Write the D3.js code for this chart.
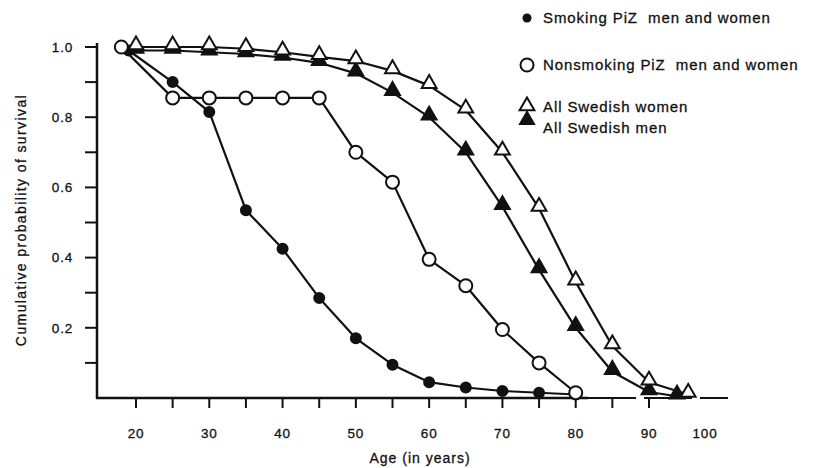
<!DOCTYPE html>
<html>

<head>
    <title>Survival</title>
    <script src="https://cdn.jsdelivr.net/npm/d3@7"></script>
    <style>
        body { margin: 0; background: #fff; }
        text { font-family: "Liberation Sans", Arial, sans-serif; fill: #111; stroke: #111; stroke-width: 0.3px; }
    </style>
</head>

<body>
    <svg width="814" height="468" id="mainsvg"></svg>
    <script>
        // ages (years) and cumulative survival
        const smokingAge = [19, 25, 30, 35, 40, 45, 50, 55, 60, 65, 70, 75, 80];
        const smokingVal = [0.99, 0.90, 0.815, 0.535, 0.425, 0.285, 0.17, 0.095, 0.045, 0.03, 0.02, 0.015, 0.01];
        const nonsmokingAge = [18, 25, 30, 35, 40, 45, 50, 55, 60, 65, 70, 75, 80];
        const nonsmokingVal = [1.0, 0.855, 0.855, 0.855, 0.855, 0.855, 0.70, 0.615, 0.395, 0.32, 0.195, 0.10, 0.015];
        const womenAge = [20, 25, 30, 35, 40, 45, 50, 55, 60, 65, 70, 75, 80, 85, 90, 97];
        const womenVal = [1.0, 1.0, 1.0, 0.995, 0.985, 0.972, 0.96, 0.932, 0.89, 0.82, 0.70, 0.54, 0.33, 0.148, 0.045, 0.01];
        const menAge = [20, 25, 30, 35, 40, 45, 50, 55, 60, 65, 70, 75, 80, 85, 90, 95];
        const menVal = [0.99, 0.99, 0.985, 0.98, 0.97, 0.955, 0.925, 0.87, 0.80, 0.70, 0.545, 0.365, 0.20, 0.075, 0.017, 0.005];

        const xTickLabels = [20, 30, 40, 50, 60, 70, 80, 90, 100];
        const xMinorTicks = [20, 25, 30, 35, 40, 45, 50, 55, 60, 65, 70, 75, 80, 85, 90];
        const yTickLabels = [0.2, 0.4, 0.6, 0.8, 1.0];
        const yMinorTicks = [0.1, 0.2, 0.3, 0.4, 0.5, 0.6, 0.7, 0.8, 0.9, 1.0];
        const legendLabels = ['Smoking PiZ  men and women', 'Nonsmoking PiZ  men and women', 'All Swedish women', 'All Swedish men'];

        const svg = d3.select('svg');
        const x = d3.scaleLinear().domain([20, 90, 100]).range([136, 649, 705]);
        const y = d3.scaleLinear().domain([0, 1]).range([398, 47]);

        // axes
        svg.append('line').attr('x1', 97).attr('x2', 97).attr('y1', 43).attr('y2', 399)
            .attr('stroke', '#111').attr('stroke-width', 2.5);
        svg.append('line').attr('x1', 96).attr('x2', 588).attr('y1', 398).attr('y2', 398)
            .attr('stroke', '#111').attr('stroke-width', 2.5);
        svg.append('line').attr('x1', 588).attr('x2', 728).attr('y1', 398).attr('y2', 398)
            .attr('stroke', '#111').attr('stroke-width', 2.2).attr('stroke-dasharray', '48,8');

        svg.selectAll('.ytick').data(yMinorTicks).join('line')
            .attr('x1', 85).attr('x2', 97).attr('y1', d => y(d)).attr('y2', d => y(d))
            .attr('stroke', '#111').attr('stroke-width', 2);
        svg.selectAll('.ylab').data(yTickLabels).join('text')
            .attr('x', 73).attr('y', d => y(d)).attr('dy', '0.35em')
            .attr('text-anchor', 'end').attr('font-size', 13.5).attr('letter-spacing', 0.8)
            .text(d => d.toFixed(1));

        svg.selectAll('.xtick').data(xMinorTicks).join('line')
            .attr('x1', d => x(d)).attr('x2', d => x(d)).attr('y1', 398).attr('y2', 408)
            .attr('stroke', '#111').attr('stroke-width', 2);
        svg.selectAll('.xlab').data(xTickLabels).join('text')
            .attr('x', d => x(d)).attr('y', 438)
            .attr('text-anchor', 'middle').attr('font-size', 13.5).attr('letter-spacing', 0.8)
            .text(d => d);

        svg.append('text').attr('x', 420).attr('y', 463).attr('text-anchor', 'middle')
            .attr('font-size', 14).attr('letter-spacing', 1).text('Age (in years)');
        svg.append('text').attr('transform', 'translate(26,220) rotate(-90)').attr('text-anchor', 'middle')
            .attr('font-size', 14).attr('letter-spacing', 1.4).text('Cumulative probability of survival');

        // series
        const series = [
            { age: smokingAge, val: smokingVal, shape: 'circle', fill: '#111', r: 5 },
            { age: nonsmokingAge, val: nonsmokingVal, shape: 'circle', fill: '#fff', r: 6.5 },
            { age: menAge, val: menVal, shape: 'tri', fill: '#111', r: 0 },
            { age: womenAge, val: womenVal, shape: 'tri', fill: '#fff', r: 0 }
        ];
        const line = d3.line().x(d => x(d[0])).y(d => y(d[1])).curve(d3.curveLinear);
        const tri = d3.symbol().type(d3.symbolTriangle).size(95);

        series.forEach(s => {
            const pts = s.age.map((a, i) => [a, s.val[i]]);
            svg.append('path').attr('d', line(pts)).attr('fill', 'none')
                .attr('stroke', '#111').attr('stroke-width', 2.2).attr('stroke-linejoin', 'round');
        });
        series.forEach(s => {
            const pts = s.age.map((a, i) => [a, s.val[i]]);
            const g = svg.append('g');
            if (s.shape === 'circle') {
                g.selectAll('circle').data(pts).join('circle')
                    .attr('cx', d => x(d[0])).attr('cy', d => y(d[1])).attr('r', s.r)
                    .attr('fill', s.fill).attr('stroke', '#111').attr('stroke-width', 2);
            } else {
                g.selectAll('path').data(pts).join('path').attr('d', tri)
                    .attr('transform', d => `translate(${x(d[0])},${y(d[1]) - 2})`)
                    .attr('fill', s.fill).attr('stroke', '#111').attr('stroke-width', 2);
            }
        });

        // legend
        const legendY = [18, 65, 107, 128];
        svg.append('circle').attr('cx', 527).attr('cy', legendY[0]).attr('r', 4.5).attr('fill', '#111');
        svg.append('circle').attr('cx', 527).attr('cy', legendY[1]).attr('r', 6.5)
            .attr('fill', '#fff').attr('stroke', '#111').attr('stroke-width', 2);
        svg.append('path').attr('d', tri).attr('transform', `translate(527,${legendY[2] - 1})`)
            .attr('fill', '#fff').attr('stroke', '#111').attr('stroke-width', 2);
        svg.append('path').attr('d', tri).attr('transform', `translate(527,${legendY[3] - 8})`)
            .attr('fill', '#111').attr('stroke', '#111').attr('stroke-width', 1.5);
        svg.selectAll('.leg').data(legendLabels).join('text')
            .attr('x', 543).attr('y', (d, i) => legendY[i]).attr('dy', '0.35em')
            .attr('font-size', 15).attr('letter-spacing', 0.9).style('white-space', 'pre')
            .text(d => d);
    </script>
</body>

</html>
